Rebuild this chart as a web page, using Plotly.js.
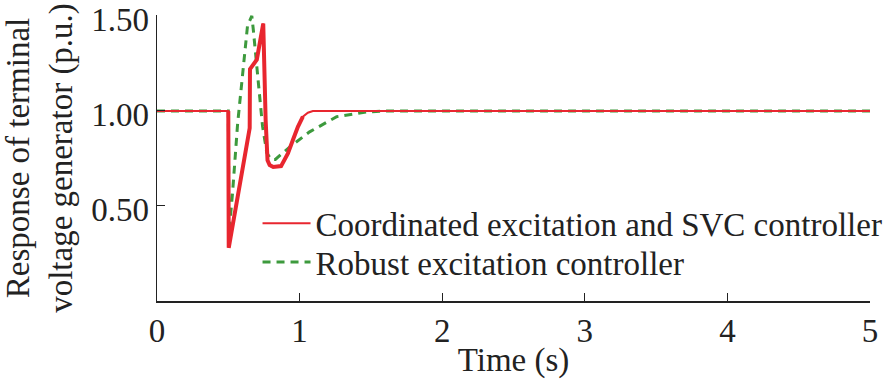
<!DOCTYPE html>
<html>
<head>
<meta charset="utf-8">
<script src="https://cdn.plot.ly/plotly-3.0.1.min.js"></script>
<style>html,body{margin:0;padding:0;background:#fff;}#chart{width:890px;height:381px;}</style>
</head>
<body>
<div id="chart"></div>
<script>
// Time (s) and terminal voltage (p.u.)
const timeRed = [0, 0.5, 0.503, 0.65, 0.652, 0.70, 0.745, 0.762, 0.768, 0.775, 0.79, 0.815, 0.87, 0.895, 0.918, 0.953, 0.988, 1.023, 1.058, 1.093, 5];
const voltRed = [1.0, 1.0, 0.28, 0.91, 1.22, 1.27, 1.46, 0.95, 0.80, 0.74, 0.715, 0.705, 0.71, 0.74, 0.777, 0.847, 0.917, 0.97, 0.991, 1.0, 1.0];

const timeGreen = [0, 0.5, 0.505, 0.53, 0.565, 0.635, 0.665, 0.675, 0.74, 0.77, 0.80, 0.83, 0.93, 1.07, 1.26, 1.47, 1.6, 5];
const voltGreen = [1.0, 1.0, 0.36, 0.57, 0.93, 1.45, 1.50, 1.43, 0.92, 0.78, 0.745, 0.745, 0.81, 0.89, 0.97, 0.995, 1.0, 1.0];

const seriesNames = ['Coordinated excitation and SVC controller', 'Robust excitation controller'];
const yTickVals = [0.5, 1.0, 1.5];
const yTickText = ['0.50', '1.00', '1.50'];
const xTickVals = [0, 1, 2, 3, 4, 5];

const red = '#e8262f';
const green = '#3d9a3d';
const font = 'Liberation Serif, Times New Roman, serif';
const fs = 33;

// transient part of red curve drawn thicker
const tStart = timeRed.indexOf(0.5), tEnd = timeRed.indexOf(1.023);

const traces = [
  {x: timeGreen, y: voltGreen, mode: 'lines', name: seriesNames[1], legend: 'legend2',
   line: {color: green, width: 3, dash: '8px,6px'}},
  {x: timeRed, y: voltRed, mode: 'lines', name: seriesNames[0], legend: 'legend',
   line: {color: red, width: 2}},
  {x: timeRed.slice(tStart, tEnd + 1), y: voltRed.slice(tStart, tEnd + 1), mode: 'lines',
   showlegend: false, hoverinfo: 'skip', line: {color: red, width: 4}},
];

const legendBase = {x: 0.141, xanchor: 'left', yanchor: 'top', bgcolor: 'rgba(0,0,0,0)',
                    font: {family: font, size: fs, color: '#222'}, itemwidth: 48};

const layout = {
  width: 890, height: 381,
  margin: {l: 157, r: 20, t: 15, b: 80, autoexpand: false},
  paper_bgcolor: '#fff', plot_bgcolor: '#fff',
  font: {family: font, size: fs, color: '#222'},
  showlegend: true,
  legend: Object.assign({}, legendBase, {y: 0.370}),
  legend2: Object.assign({}, legendBase, {y: 0.234}),
  xaxis: {range: [0, 5], tickvals: xTickVals, ticks: 'inside', ticklen: 8, tickcolor: '#222',
          showline: true, linecolor: '#222', linewidth: 1.5, showgrid: false, zeroline: false,
          ticklabeloverflow: 'allow', automargin: false,
          tickfont: {family: font, size: fs, color: '#222'},
          title: {text: 'Time (s)', font: {family: font, size: fs, color: '#222'}, standoff: 0}},
  yaxis: {range: [0, 1.505], tickvals: yTickVals, ticktext: yTickText, ticks: 'inside', ticklen: 8,
          tickcolor: '#222', showline: true, linecolor: '#222', linewidth: 1.5, showgrid: false, zeroline: false,
          ticklabeloverflow: 'allow', automargin: false, ticklabelshift: 3,
          tickfont: {family: font, size: fs, color: '#222'},
          title: {text: 'Response of terminal<br>voltage generator (p.u.)', font: {family: font, size: fs, color: '#222'}, standoff: 12}},
};

Plotly.newPlot('chart', traces, layout, {staticPlot: true, displayModeBar: false});
</script>
</body>
</html>
